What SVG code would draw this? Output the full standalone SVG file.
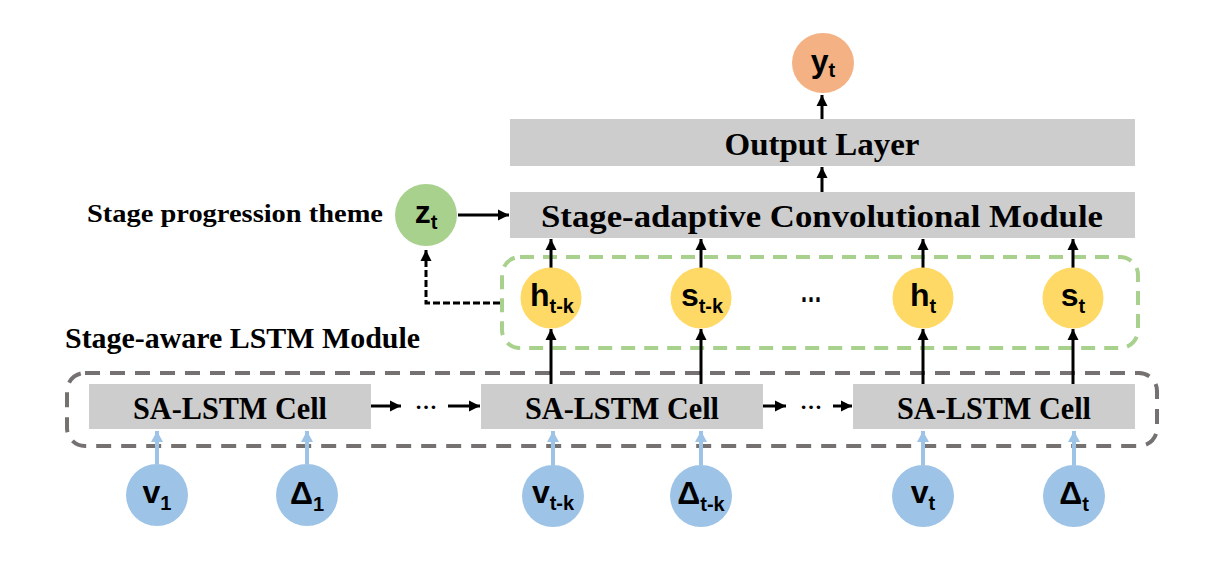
<svg xmlns="http://www.w3.org/2000/svg" width="1205" height="563" viewBox="0 0 1205 563">
<style>
.box{fill:#CDCDCD}
.lbl{font-family:"Liberation Serif","Times New Roman",serif;font-weight:bold;fill:#000}
.sym{font-family:"Liberation Sans",Arial,sans-serif;font-weight:bold;fill:#000;font-size:32px}
.sub{font-size:20px}
.yel{fill:#FFD966}
.blu{fill:#9DC3E6}
.arr{stroke:#000;stroke-width:3;fill:none}
.barr{stroke:#9DC3E6;stroke-width:4;fill:none}
</style>
<defs>
<marker id="ah" markerUnits="userSpaceOnUse" markerWidth="12" markerHeight="12" refX="11" refY="5.5" orient="auto" viewBox="0 0 12 11">
<path d="M0,0 L11,5.5 L0,11 z" fill="#000"/>
</marker>
<marker id="bh" markerUnits="userSpaceOnUse" markerWidth="12" markerHeight="12" refX="11" refY="6" orient="auto" viewBox="0 0 12 12">
<path d="M0,0 L11,6 L0,12 z" fill="#9DC3E6"/>
</marker>
</defs>
<rect width="1205" height="563" fill="#fff"/>

<g id="lstm-module">
<rect x="67" y="373" width="1090" height="73" rx="18" fill="none" stroke="#767171" stroke-width="4" stroke-dasharray="15 10"/>
<text class="lbl" x="65" y="348" font-size="30" textLength="355" lengthAdjust="spacingAndGlyphs">Stage-aware LSTM Module</text>
</g>
<g id="hidden-group">
<rect x="502" y="257" width="636" height="91" rx="18" fill="none" stroke="#A9D18E" stroke-width="4" stroke-dasharray="14 9"/>
</g>

<g id="connectors">
<line class="arr" x1="822" y1="119" x2="822" y2="95" marker-end="url(#ah)"/>
<line class="arr" x1="822" y1="192" x2="822" y2="167" marker-end="url(#ah)"/>
<line class="arr" x1="458" y1="215" x2="509" y2="215" marker-end="url(#ah)"/>
<path d="M500,303 H426 V250" fill="none" stroke="#000" stroke-width="3" stroke-dasharray="7 3" marker-end="url(#ah)"/>
<line class="arr" x1="551" y1="268" x2="551" y2="239" marker-end="url(#ah)"/>
<line class="arr" x1="701" y1="268" x2="701" y2="239" marker-end="url(#ah)"/>
<line class="arr" x1="923" y1="268" x2="923" y2="239" marker-end="url(#ah)"/>
<line class="arr" x1="1073" y1="268" x2="1073" y2="239" marker-end="url(#ah)"/>
<line class="arr" x1="551" y1="385" x2="551" y2="329" marker-end="url(#ah)"/>
<line class="arr" x1="701" y1="385" x2="701" y2="329" marker-end="url(#ah)"/>
<line class="arr" x1="923" y1="385" x2="923" y2="329" marker-end="url(#ah)"/>
<line class="arr" x1="1073" y1="385" x2="1073" y2="329" marker-end="url(#ah)"/>
<line class="arr" x1="371" y1="406" x2="401" y2="406" marker-end="url(#ah)"/>
<line class="arr" x1="448" y1="406" x2="480" y2="406" marker-end="url(#ah)"/>
<line class="arr" x1="763" y1="406" x2="786" y2="406" marker-end="url(#ah)"/>
<line class="arr" x1="833" y1="406" x2="852" y2="406" marker-end="url(#ah)"/>
<text class="lbl" x="426" y="409" font-size="22" text-anchor="middle" textLength="22" lengthAdjust="spacingAndGlyphs">…</text>
<text class="lbl" x="811" y="409" font-size="22" text-anchor="middle" textLength="22" lengthAdjust="spacingAndGlyphs">…</text>
<line class="barr" x1="157" y1="464" x2="157" y2="431" marker-end="url(#bh)"/>
<line class="barr" x1="307" y1="464" x2="307" y2="431" marker-end="url(#bh)"/>
<line class="barr" x1="553" y1="465" x2="553" y2="431" marker-end="url(#bh)"/>
<line class="barr" x1="701" y1="465" x2="701" y2="431" marker-end="url(#bh)"/>
<line class="barr" x1="923" y1="465" x2="923" y2="431" marker-end="url(#bh)"/>
<line class="barr" x1="1074" y1="465" x2="1074" y2="431" marker-end="url(#bh)"/>
</g>

<g id="y_t"><ellipse cx="823" cy="63" rx="31" ry="30" fill="#F4B183"/><text class="sym" x="823" y="72" text-anchor="middle">y<tspan class="sub" dy="5">t</tspan></text></g>
<g id="output-layer"><rect class="box" x="510" y="119" width="625" height="47"/><text class="lbl" x="822" y="155" font-size="32" text-anchor="middle" textLength="195" lengthAdjust="spacingAndGlyphs">Output Layer</text></g>
<g id="conv-module"><rect class="box" x="510" y="192" width="625" height="46"/><text class="lbl" x="822" y="227" font-size="32" text-anchor="middle" textLength="562" lengthAdjust="spacingAndGlyphs">Stage-adaptive Convolutional Module</text></g>
<g id="z_t"><circle cx="426" cy="215" r="31" fill="#A9D18E"/><text class="sym" x="426" y="223" text-anchor="middle">z<tspan class="sub" dy="6">t</tspan></text></g>
<g id="theme-label"><text class="lbl" x="383" y="222" font-size="25" text-anchor="end" textLength="296" lengthAdjust="spacingAndGlyphs">Stage progression theme</text></g>

<g id="h_tk"><circle class="yel" cx="551" cy="298" r="30.5"/><text class="sym" x="552" y="306" text-anchor="middle">h<tspan class="sub" dy="7">t-k</tspan></text></g>
<g id="s_tk"><circle class="yel" cx="701" cy="298" r="30.5"/><text class="sym" x="702" y="306" text-anchor="middle">s<tspan class="sub" dy="7">t-k</tspan></text></g>
<g id="dots"><text class="sym" x="811" y="302" text-anchor="middle" font-size="24" textLength="22" lengthAdjust="spacingAndGlyphs">…</text></g>
<g id="h_t"><circle class="yel" cx="923" cy="298" r="30.5"/><text class="sym" x="923" y="306" text-anchor="middle">h<tspan class="sub" dy="7">t</tspan></text></g>
<g id="s_t"><circle class="yel" cx="1073" cy="298" r="30.5"/><text class="sym" x="1073" y="306" text-anchor="middle">s<tspan class="sub" dy="7">t</tspan></text></g>

<g id="cell1"><rect class="box" x="89" y="384" width="282" height="45"/><text class="lbl" x="230" y="419" font-size="31" text-anchor="middle" textLength="194" lengthAdjust="spacingAndGlyphs">SA-LSTM Cell</text></g>
<g id="cell2"><rect class="box" x="481" y="384" width="282" height="45"/><text class="lbl" x="622" y="419" font-size="31" text-anchor="middle" textLength="194" lengthAdjust="spacingAndGlyphs">SA-LSTM Cell</text></g>
<g id="cell3"><rect class="box" x="853" y="384" width="282" height="45"/><text class="lbl" x="994" y="419" font-size="31" text-anchor="middle" textLength="194" lengthAdjust="spacingAndGlyphs">SA-LSTM Cell</text></g>

<g id="v_1"><circle class="blu" cx="157" cy="495" r="31"/><text class="sym" x="157" y="503" text-anchor="middle">v<tspan class="sub" dy="7">1</tspan></text></g>
<g id="d_1"><circle class="blu" cx="307" cy="495" r="31"/><text class="sym" x="307" y="504" text-anchor="middle">Δ<tspan class="sub" dy="7">1</tspan></text></g>
<g id="v_tk"><circle class="blu" cx="553" cy="496" r="31"/><text class="sym" x="553" y="503" text-anchor="middle">v<tspan class="sub" dy="7">t-k</tspan></text></g>
<g id="d_tk"><circle class="blu" cx="701" cy="496" r="31"/><text class="sym" x="701" y="504" text-anchor="middle">Δ<tspan class="sub" dy="7">t-k</tspan></text></g>
<g id="v_t"><circle class="blu" cx="923" cy="496" r="31"/><text class="sym" x="923" y="503" text-anchor="middle">v<tspan class="sub" dy="7">t</tspan></text></g>
<g id="d_t"><circle class="blu" cx="1074" cy="496" r="31"/><text class="sym" x="1074" y="504" text-anchor="middle">Δ<tspan class="sub" dy="7">t</tspan></text></g>
</svg>
